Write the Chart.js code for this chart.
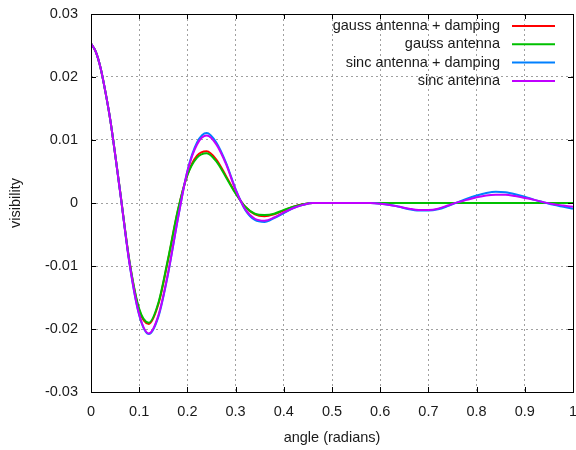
<!DOCTYPE html>
<html><head><meta charset="utf-8">
<script src="https://cdn.jsdelivr.net/npm/chart.js@4/dist/chart.umd.min.js"></script>
<style>html,body{margin:0;padding:0;background:#fff}canvas{display:block}</style>
</head><body>
<canvas id="c" width="576" height="450"></canvas>
<script>
const angles = [0,0.01,0.02,0.03,0.04,0.06,0.08,0.10,0.12,0.14,0.16,0.18,0.20,0.22,0.24,0.26,0.28,0.30,0.32,0.34,0.36,0.38,0.40,0.42,0.44,0.46,0.48,0.50,0.52,0.54,0.56,0.58,0.60,0.62,0.64,0.66,0.68,0.70,0.72,0.74,0.76,0.78,0.80,0.82,0.84,0.86,0.88,0.90,0.92,0.94,0.96,0.98,1.00];
const gaussDamping = [0.0253,0.0240,0.0214,0.0176,0.0132,0.0021,-0.0094,-0.0170,-0.0192,-0.0160,-0.0090,-0.0013,0.0045,0.0075,0.0082,0.0069,0.0043,0.0016,-0.0006,-0.0018,-0.0021,-0.0018,-0.0012,-0.0006,-0.0002,0,0,0,0,0,0,0,0,0,0,0,0,0,0,0,0,0,0,0,0,0,0,0,0,0,0,0,0];
const gauss = [0.0253,0.0240,0.0214,0.0176,0.0132,0.0021,-0.0093,-0.0168,-0.0190,-0.0158,-0.0088,-0.0012,0.0044,0.0072,0.0079,0.0066,0.0041,0.0015,-0.0006,-0.0017,-0.0019,-0.0017,-0.0011,-0.0006,-0.0002,0,0,0,0,0,0,0,0,0,0,0,0,0,0,0,0,0,0,0,0,0,0,0,0,0,0,0,0];
const sincDamping = [0.0253,0.0240,0.0214,0.0176,0.0132,0.0020,-0.0097,-0.0178,-0.0208,-0.0180,-0.0112,-0.0026,0.0051,0.0096,0.0111,0.0096,0.0064,0.0022,-0.0011,-0.0027,-0.0030,-0.0024,-0.0016,-0.0008,-0.0003,0,0,0,0,0,0,0,-0.0001,-0.0003,-0.0006,-0.0010,-0.0012,-0.0012,-0.0010,-0.0005,0.0001,0.0007,0.0012,0.0016,0.0018,0.0017,0.0014,0.0010,0.0005,0.0001,-0.0003,-0.0006,-0.0009];
const sinc = [0.0253,0.0240,0.0214,0.0176,0.0132,0.0020,-0.0096,-0.0177,-0.0207,-0.0178,-0.0111,-0.0026,0.0050,0.0093,0.0107,0.0093,0.0062,0.0021,-0.0010,-0.0025,-0.0028,-0.0023,-0.0015,-0.0008,-0.0003,0,0,0,0,0,0,0,-0.0001,-0.0003,-0.0006,-0.0009,-0.0011,-0.0011,-0.0009,-0.0004,0.0001,0.0005,0.0009,0.0012,0.0013,0.0013,0.0011,0.0008,0.0005,0.0001,-0.0002,-0.0004,-0.0006];
const seriesNames = ['gauss antenna + damping','gauss antenna','sinc antenna + damping','sinc antenna'];
const xTicks = [0,0.1,0.2,0.3,0.4,0.5,0.6,0.7,0.8,0.9,1];
const xTickLabels = ['0','0.1','0.2','0.3','0.4','0.5','0.6','0.7','0.8','0.9','1'];
const yTicks = [-0.03,-0.02,-0.01,0,0.01,0.02,0.03];
const yTickLabels = ['-0.03','-0.02','-0.01','0','0.01','0.02','0.03'];

const seriesColors = ['#ff0000','#00c000','#0080ff','#c000ff'];
const seriesValues = [gaussDamping, gauss, sincDamping, sinc];
const FONT = '"Liberation Sans", Arial, sans-serif';
const FS = 14.5;
Chart.defaults.font.family = FONT;
Chart.defaults.font.size = FS;
Chart.defaults.color = '#1a1a1a';

const frame = {
  id: 'frame',
  afterDatasetsDraw(chart) {
    const {ctx, chartArea: a, scales} = chart;
    ctx.save();
    ctx.strokeStyle = '#000';
    ctx.lineWidth = 1;
    ctx.beginPath();
    const L = 5;
    xTicks.forEach(v => {
      const px = Math.round(scales.x.getPixelForValue(v)) + 0.5;
      ctx.moveTo(px, a.bottom); ctx.lineTo(px, a.bottom - L);
      ctx.moveTo(px, a.top); ctx.lineTo(px, a.top + L);
    });
    yTicks.forEach(v => {
      const py = Math.round(scales.y.getPixelForValue(v)) + 0.5;
      ctx.moveTo(a.left, py); ctx.lineTo(a.left + L, py);
      ctx.moveTo(a.right, py); ctx.lineTo(a.right - L, py);
    });
    ctx.stroke();
    ctx.strokeRect(Math.round(a.left) + 0.5, Math.round(a.top) + 0.5, Math.round(a.right - a.left), Math.round(a.bottom - a.top));
    // key
    ctx.font = FS + 'px ' + FONT;
    ctx.textAlign = 'right';
    ctx.textBaseline = 'middle';
    chart.data.datasets.forEach((ds, i) => {
      const y = a.top + 12 + i * 18.3;
      ctx.fillStyle = '#1a1a1a';
      ctx.fillText(ds.label, a.right - 73, y);
      ctx.strokeStyle = ds.borderColor;
      ctx.lineWidth = 2;
      ctx.beginPath();
      ctx.moveTo(a.right - 61, y); ctx.lineTo(a.right - 18, y);
      ctx.stroke();
    });
    ctx.restore();
  }
};

new Chart(document.getElementById('c'), {
  type: 'line',
  data: {
    datasets: seriesValues.map((vals, i) => ({
      label: seriesNames[i],
      data: angles.map((x, j) => ({x: x, y: vals[j]})),
      borderColor: seriesColors[i],
      backgroundColor: seriesColors[i],
      borderWidth: 2,
      pointRadius: 0,
      cubicInterpolationMode: 'monotone',
      fill: false,
      order: 4 - i
    }))
  },
  options: {
    responsive: false,
    animation: false,
    layout: {padding: {left: 0, right: 3, top: 14, bottom: 0}},
    plugins: {legend: {display: false}, tooltip: {enabled: false}},
    scales: {
      x: {
        type: 'linear', min: 0, max: 1,
        afterBuildTicks: s => { s.ticks = xTicks.map(v => ({value: v})); },
        afterFit: s => { s.height = 58; s.paddingLeft = 0; s.paddingRight = 0; },
        ticks: {padding: 11, maxRotation: 0, autoSkip: false, callback: (v, i) => xTickLabels[i]},
        grid: {color: '#a0a0a0', lineWidth: 1, drawTicks: false},
        border: {display: false, dash: [2, 3]},
        title: {display: true, text: 'angle (radians)', padding: {top: 0, bottom: 3}}
      },
      y: {
        type: 'linear', min: -0.03, max: 0.03,
        afterBuildTicks: s => { s.ticks = yTicks.map(v => ({value: v})); },
        afterFit: s => { s.width = 91; s.paddingTop = 0; s.paddingBottom = 0; },
        ticks: {padding: 13, autoSkip: false, callback: (v, i) => yTickLabels[i]},
        grid: {color: '#a0a0a0', lineWidth: 1, drawTicks: false},
        border: {display: false, dash: [2, 3]},
        title: {display: true, text: 'visibility', padding: {top: 7, bottom: 0}}
      }
    }
  },
  plugins: [frame]
});
</script>
</body></html>
